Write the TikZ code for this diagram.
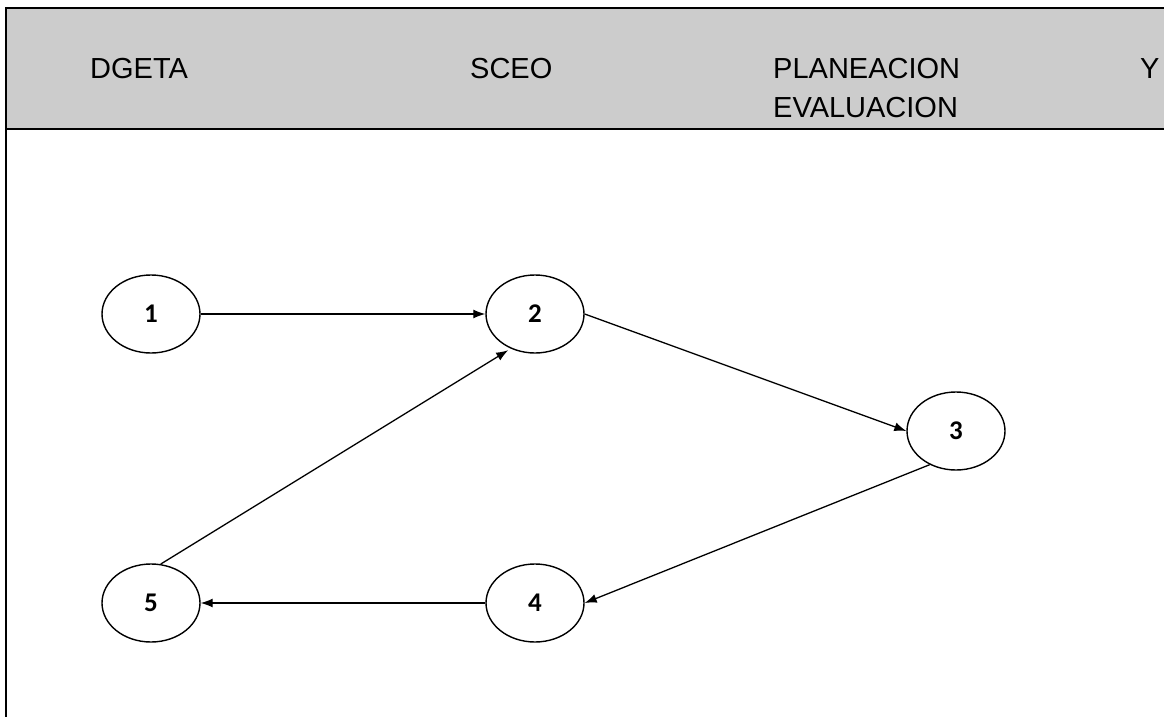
\documentclass[tikz,border=0pt]{standalone}
\usepackage{fontspec}
\setmainfont{Liberation Sans}
\newfontfamily\numfont{Carlito}
\usepackage{tikz}
\usetikzlibrary{arrows.meta,shapes.geometric}

\definecolor{headgray}{HTML}{CCCCCC}

\begin{document}
\begin{tikzpicture}[x=1pt, y=-1pt,
    state/.style={draw, ellipse, line width=1.4pt, minimum width=98pt, minimum height=78pt, inner sep=0pt, font=\numfont\bfseries\fontsize{27}{31}\selectfont},
    head/.style={anchor=base west, inner sep=0pt, font=\fontsize{29}{35}\selectfont},
    flow/.style={line width=1.3pt, -{Latex[length=12pt,width=9pt]}}]
  \useasboundingbox (0,0) rectangle (1164,717);
  % header band
  \fill[headgray] (6,8) rectangle (1164,129);
  \draw[line width=2.6pt] (6,717) -- (6,8) -- (1164,8);
  \draw[line width=2.6pt] (6,129) -- (1164,129);
  \node[head] (dgeta) at (90,78) {DGETA};
  \node[head] (sceo) at (470,78) {SCEO};
  \node[head] (plan) at (773,78) {PLANEACION};
  \node[head] (conj) at (1140,78) {Y};
  \node[head] (eval) at (773,117) {EVALUACION};
  % states
  \node[state] (n1) at (151,314) {1};
  \node[state] (n2) at (535,314) {2};
  \node[state] (n3) at (956,431) {3};
  \node[state] (n4) at (535,603) {4};
  \node[state] (n5) at (151,603) {5};
  % connectors
  \draw[flow] (n1.east) -- (n2.west);
  \draw[flow] (n2.east) -- (n3.west);
  \draw[flow] (n3.232) -- (n4.east);
  \draw[flow] (n4.west) -- (n5.east);
  \draw[flow, shorten >=3pt] (n5.76) -- (n2.235);
\end{tikzpicture}
\end{document}
